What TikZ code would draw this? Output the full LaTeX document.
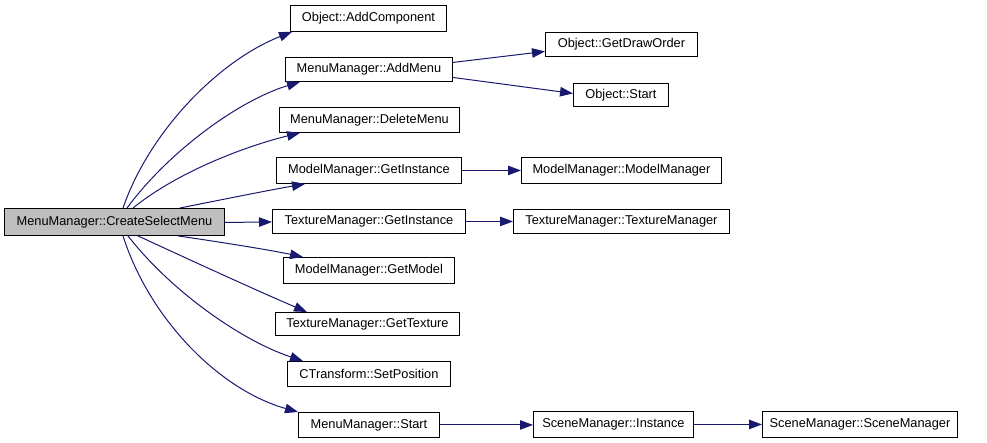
\documentclass[tikz,border=0pt]{standalone}
\usepackage{fontspec}
\setmainfont{Liberation Sans}
\usetikzlibrary{arrows.meta}
\definecolor{edgecol}{HTML}{191970}
\definecolor{maingray}{HTML}{BFBFBF}
\tikzset{
  fn/.style={draw=black, line width=0.9pt, fill=white, rectangle, inner sep=0pt, anchor=north west,
    font=\fontsize{12.8}{14}\selectfont, text=black},
  mainfn/.style={fn, fill=maingray},
  call/.style={draw=edgecol, line width=1pt, -{Triangle[length=13pt,width=9.5pt]}},
}
\newcommand{\fnbox}[7]{% name, style, x1, y1, x2, y2, text
  \node[#2, minimum width={#5-#3}, minimum height={#6-#4}] (#1) at (#3,#4) {#7};}
\begin{document}
\begin{tikzpicture}[x=1pt,y=-1pt]
\useasboundingbox (0,0) rectangle (987,443);
\fnbox{main}{mainfn}{4}{208}{224}{235}{MenuManager::CreateSelectMenu}
\fnbox{addcomp}{fn}{290}{5}{446}{31}{Object::AddComponent}
\fnbox{addmenu}{fn}{285}{57}{452}{81}{MenuManager::AddMenu}
\fnbox{drawo}{fn}{545}{32}{697}{56}{Object::GetDrawOrder}
\fnbox{ostart}{fn}{573}{83}{668}{106}{Object::Start}
\fnbox{delmenu}{fn}{279}{107}{459}{132}{MenuManager::DeleteMenu}
\fnbox{mmgi}{fn}{276}{157}{461}{183}{ModelManager::GetInstance}
\fnbox{mmmm}{fn}{521}{157}{721}{183}{ModelManager::ModelManager}
\fnbox{tmgi}{fn}{272}{209}{465}{233}{TextureManager::GetInstance}
\fnbox{tmtm}{fn}{513}{209}{729}{233}{TextureManager::TextureManager}
\fnbox{getmodel}{fn}{283}{257}{454}{283}{ModelManager::GetModel}
\fnbox{gettex}{fn}{275}{312}{459}{335}{TextureManager::GetTexture}
\fnbox{setpos}{fn}{287}{361}{450}{386}{CTransform::SetPosition}
\fnbox{mmstart}{fn}{298}{412}{439}{437}{MenuManager::Start}
\fnbox{scinst}{fn}{533}{411}{693}{437}{SceneManager::Instance}
\fnbox{scsm}{fn}{762}{411}{957}{437}{SceneManager::SceneManager}

% edges from main (top side)
\draw[call] ([xshift=119pt]main.north west) .. controls (150,130) and (220,60) .. ([xshift=2pt]addcomp.south west);
\draw[call] ([xshift=123pt]main.north west) .. controls (170,150) and (240,100) .. ([xshift=15pt]addmenu.south west);
\draw[call] ([xshift=129pt]main.north west) .. controls (180,170) and (250,145) .. ([xshift=21pt]delmenu.south west);
\draw[call] ([xshift=176pt]main.north west) .. controls (220,200) and (270,190) .. ([xshift=29pt]mmgi.south west);
\draw[call] ([yshift=-0.5pt]main.east) -- (tmgi.west |- main.east);
% edges from main (bottom side)
\draw[call] ([xshift=174pt]main.south west) .. controls (220,242) and (270,250) .. ([xshift=20pt]getmodel.north west);
\draw[call] ([xshift=134pt]main.south west) .. controls (190,260) and (260,292) .. ([xshift=32pt]gettex.north west);
\draw[call] ([xshift=124pt]main.south west) .. controls (170,290) and (240,340) .. ([xshift=16pt]setpos.north west);
\draw[call] ([xshift=119pt]main.south west) .. controls (150,320) and (220,390) .. (mmstart.north west);
% other edges
\draw[call] ([yshift=7pt]addmenu.east) -- ([yshift=-7pt]drawo.west);
\draw[call] ([yshift=-8pt]addmenu.east) -- ([yshift=1.5pt]ostart.west);
\draw[call] (mmgi.east) -- (mmmm.west);
\draw[call] (tmgi.east) -- (tmtm.west);
\draw[call] (mmstart.east) -- (scinst.west |- mmstart.east);
\draw[call] (scinst.east) -- (scsm.west);
\end{tikzpicture}
\end{document}
